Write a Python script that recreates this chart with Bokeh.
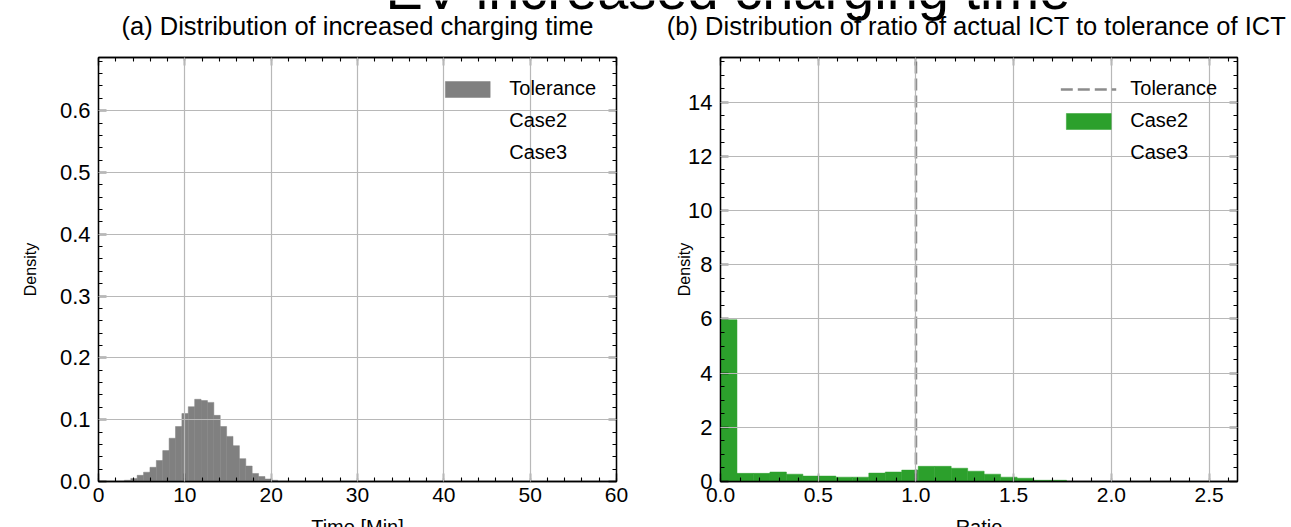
from bokeh.plotting import figure
from bokeh.layouts import row, column
from bokeh.models import (Range1d, LinearAxis, Legend, LegendItem,
                          SingleIntervalTicker, PrintfTickFormatter, CustomJSTickFormatter)
from bokeh.core.properties import value
from bokeh.embed import file_html
from bokeh.resources import INLINE

FONT = "Liberation Sans"

# ---------------- texts ----------------
suptitle_text = "EV increased charging time"
title_a = "(a) Distribution of increased charging time"
title_b = "(b) Distribution of ratio of actual ICT to tolerance of ICT"
xlabel_a = "Time [Min]"
xlabel_b = "Ratio"
ylabel = "Density"
legend_names = ["Tolerance", "Case2", "Case3"]

# ---------------- data: panel (a) ----------------
time_bin_edges = [3.00, 3.74, 4.48, 5.22, 5.96, 6.70, 7.44, 8.18, 8.92, 9.66,
                  10.40, 11.14, 11.88, 12.62, 13.36, 14.10, 14.84, 15.58, 16.32,
                  17.06, 17.80, 18.54, 19.28, 20.02, 20.76]
time_density_tolerance = [0.002, 0.005, 0.010, 0.015, 0.023, 0.034, 0.050, 0.070,
                          0.089, 0.110, 0.121, 0.133, 0.131, 0.128, 0.107, 0.089,
                          0.073, 0.058, 0.037, 0.025, 0.013, 0.008, 0.004, 0.002]
time_xlim = (0, 60)
time_ylim = (0, 0.686)

# ---------------- data: panel (b) ----------------
ratio_bin_edges = [0.0, 0.0843, 0.1686, 0.2529, 0.3372, 0.4215, 0.5058, 0.5901,
                   0.6744, 0.7587, 0.8430, 0.9273, 1.0116, 1.0959, 1.1802, 1.2645,
                   1.3488, 1.4331, 1.5174, 1.6017, 1.6860, 1.7703]
ratio_density_case2 = [5.97, 0.30, 0.30, 0.35, 0.27, 0.20, 0.20, 0.16, 0.16, 0.31,
                       0.35, 0.42, 0.56, 0.56, 0.49, 0.38, 0.27, 0.16, 0.12, 0.045,
                       0.045]
tolerance_ratio = 1.0
ratio_xlim = (0, 2.645)
ratio_ylim = (0, 15.65)

GRAY = "#808080"
GREEN = "#2ca02c"
TOL_LINE = "#8c8c8c"

W_TOTAL = 1291
TOP_STRIP = 45
BOTTOM_STRIP = 12
H_MAIN = 470


def build(width, mbl, mbr, xr, yr, xint, xminor, yint, yminor, xfmt, yfmt, ystand):
    p = figure(width=width, height=H_MAIN, x_range=Range1d(*xr), y_range=Range1d(*yr),
               output_backend="svg", toolbar_location=None, title_location=None,
               min_border_left=mbl, min_border_right=mbr,
               min_border_top=12, min_border_bottom=34)
    xt = SingleIntervalTicker(interval=xint, num_minor_ticks=xminor)
    yt = SingleIntervalTicker(interval=yint, num_minor_ticks=yminor)
    bottom_ax = p.below[0]
    left_ax = p.left[0]
    bottom_ax.ticker = xt
    left_ax.ticker = yt
    bottom_ax.formatter = PrintfTickFormatter(format=xfmt)
    left_ax.formatter = PrintfTickFormatter(format=yfmt)
    blank = CustomJSTickFormatter(code="return ''")
    top_ax = LinearAxis(ticker=xt, formatter=blank, major_label_standoff=0,
                        major_label_text_font_size="6px")
    right_ax = LinearAxis(ticker=yt, formatter=blank, major_label_standoff=0,
                          major_label_text_font_size="6px")
    p.add_layout(top_ax, "above")
    p.add_layout(right_ax, "right")
    for ax in (bottom_ax, left_ax, top_ax, right_ax):
        ax.major_tick_in = 8
        ax.major_tick_out = 0
        ax.minor_tick_in = 4
        ax.minor_tick_out = 0
        ax.major_tick_line_color = "black"
        ax.minor_tick_line_color = "black"
        ax.major_tick_line_width = 1.3
        ax.minor_tick_line_width = 1.1
        ax.axis_line_color = "black"
        ax.axis_line_width = 1.3
        ax.major_label_text_font = FONT
        ax.major_label_text_color = "black"
    bottom_ax.major_label_text_font_size = "21px"
    left_ax.major_label_text_font_size = "22px"
    bottom_ax.major_label_standoff = 6
    left_ax.major_label_standoff = 8
    left_ax.axis_label = ylabel
    left_ax.axis_label_text_font = FONT
    left_ax.axis_label_text_font_size = "16px"
    left_ax.axis_label_text_font_style = "normal"
    left_ax.axis_label_text_color = "black"
    left_ax.axis_label_standoff = ystand
    p.xgrid.ticker = xt
    p.ygrid.ticker = yt
    p.grid.grid_line_color = "#b8b8b8"
    p.grid.grid_line_width = 1.2
    p.grid.level = "guide"
    p.outline_line_color = "black"
    p.outline_line_width = 1.3
    return p


# ---------------- panel (a) ----------------
pa = build(655, 98, 39, time_xlim, time_ylim, 10, 5, 0.1, 5, "%d", "%.1f", 18)
ra_tol = pa.quad(left=time_bin_edges[:-1], right=time_bin_edges[1:],
                 top=time_density_tolerance, bottom=0,
                 fill_color=GRAY, line_color=GRAY, line_width=0.5)
ra_c2 = pa.quad(left=[], right=[], top=[], bottom=[], fill_alpha=0, line_alpha=0)
ra_c3 = pa.quad(left=[], right=[], top=[], bottom=[], fill_alpha=0, line_alpha=0)

# ---------------- panel (b) ----------------
pb = build(636, 65, 54, ratio_xlim, ratio_ylim, 0.5, 5, 2, 4, "%.1f", "%d", -8)
rb_c2 = pb.quad(left=ratio_bin_edges[:-1], right=ratio_bin_edges[1:],
                top=ratio_density_case2, bottom=0,
                fill_color=GREEN, line_color=GREEN, line_width=0.5)
rb_tol = pb.line(x=[tolerance_ratio, tolerance_ratio], y=[ratio_ylim[0], ratio_ylim[1]],
                 line_color=TOL_LINE, line_width=2.6, line_dash="12 5")
rb_c3 = pb.quad(left=[], right=[], top=[], bottom=[], fill_alpha=0, line_alpha=0)


def add_legend(p, renderers):
    leg = Legend(items=[LegendItem(label=n, renderers=[r]) for n, r in zip(legend_names, renderers)],
                 location="top_right", border_line_alpha=0, background_fill_alpha=0,
                 label_text_font=FONT, label_text_font_size="20px",
                 label_text_color="black",
                 glyph_width=56, glyph_height=20, label_standoff=14,
                 spacing=9, padding=0, margin=20)
    p.add_layout(leg)


add_legend(pa, [ra_tol, ra_c2, ra_c3])
add_legend(pb, [rb_tol, rb_c2, rb_c3])


# ---------------- text strips (pixel coordinates, y measured up from strip bottom) ----------------
def strip(height):
    s = figure(frame_width=W_TOTAL, frame_height=height,
               x_range=Range1d(0, W_TOTAL), y_range=Range1d(0, height),
               output_backend="svg", toolbar_location=None, title_location=None,
               min_border=0, x_axis_location=None, y_axis_location=None)
    s.outline_line_color = None
    s.grid.visible = False
    return s


BASE_SHIFT = 0.36  # rendered baseline sits this many em below the anchor


def anchor_y(strip_h, page_top, baseline_page_y, size_px):
    # convert a wanted baseline (page px) to the strip's y coordinate
    return strip_h - (baseline_page_y - page_top - BASE_SHIFT * size_px)


top = strip(TOP_STRIP)
top.text(x=[385], y=[anchor_y(TOP_STRIP, 0, 9, 56)], text=[suptitle_text],
         text_font=value(FONT), text_font_size="56px", text_align="left",
         text_baseline="alphabetic", text_color="black")
ty = anchor_y(TOP_STRIP, 0, 35, 25.5)
top.text(x=[357, 976], y=[ty, ty], text=[title_a, title_b],
         text_font=value(FONT), text_font_size="25.5px", text_align="center",
         text_baseline="alphabetic", text_color="black")

bottom = strip(BOTTOM_STRIP)
by = anchor_y(BOTTOM_STRIP, 515, 534, 20)
bottom.text(x=[357, 978.5], y=[by, by], text=[xlabel_a, xlabel_b],
            text_font=value(FONT), text_font_size="20px", text_align="center",
            text_baseline="alphabetic", text_color="black")

layout = column(top, row(pa, pb), bottom)
open("out.html", "w").write(file_html(layout, INLINE))
